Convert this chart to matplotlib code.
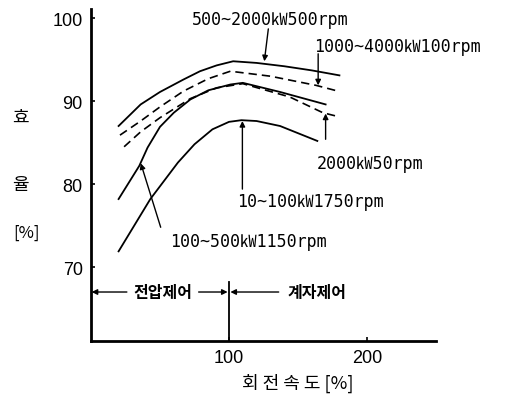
import matplotlib.pyplot as plt

# efficiency curves (speed %, efficiency %)
speed_500_2000 = [20, 36, 50, 67, 79, 91, 103, 120, 140, 160, 180]
eff_500_2000 = [87.0, 89.6, 91.1, 92.6, 93.6, 94.3, 94.8, 94.6, 94.2, 93.7, 93.1]

speed_1000_4000 = [21, 36, 50, 67, 85, 101, 130, 163, 179]
eff_1000_4000 = [85.9, 87.6, 89.3, 91.2, 92.7, 93.6, 93.0, 91.9, 91.2]

speed_2000 = [24, 36, 50, 72, 91, 110, 144, 168, 180]
eff_2000 = [84.5, 86.3, 88.0, 90.3, 91.6, 92.1, 90.5, 88.6, 88.1]

speed_100_500 = [20, 35, 41, 50, 60, 72, 85, 101, 110, 137, 170]
eff_100_500 = [78.2, 82.2, 84.4, 86.9, 88.6, 90.2, 91.3, 92.0, 92.2, 91.1, 89.6]

speed_10_100 = [20, 43, 63, 75, 88, 100, 109, 120, 137, 164]
eff_10_100 = [71.9, 78.2, 82.6, 84.8, 86.6, 87.5, 87.7, 87.6, 87.0, 85.2]

yticks = [70, 80, 90, 100]
xticks = [100, 200]

lab_font = ['DejaVu Sans Mono', 'Noto Sans CJK KR']
kr_font = ['Noto Sans CJK KR', 'DejaVu Sans']

fig = plt.figure(figsize=(5.22, 4.02), dpi=100)
ax = fig.add_axes((0.1743, 0.1493, 0.661, 0.8259))

ax.plot(speed_500_2000, eff_500_2000, 'k-', lw=1.3)
ax.plot(speed_1000_4000, eff_1000_4000, 'k--', lw=1.2, dashes=(5, 3))
ax.plot(speed_2000, eff_2000, 'k--', lw=1.2, dashes=(5, 3))
ax.plot(speed_100_500, eff_100_500, 'k-', lw=1.3)
ax.plot(speed_10_100, eff_10_100, 'k-', lw=1.3)

ax.set_xlim(0, 250)
ax.set_ylim(61.1, 101.1)
ax.set_xticks(xticks)
ax.set_yticks(yticks)
ax.tick_params(direction='in', length=3, width=1.2, labelsize=13, pad=6)
for t in ax.get_xticklabels() + ax.get_yticklabels():
    t.set_family('Liberation Sans')
ax.spines['top'].set_visible(False)
ax.spines['right'].set_visible(False)
ax.spines['left'].set_linewidth(2)
ax.spines['bottom'].set_linewidth(2)

arr = dict(arrowstyle='-|>', lw=1, color='k', mutation_scale=8, shrinkA=0, shrinkB=0)
lab = dict(family=lab_font, fontsize=12, ha='center', va='center')

# curve labels with leader arrows
ax.text(130, 99.9, '500~2000㎾500rpm', **lab)
ax.annotate('', xy=(125.6, 94.8), xytext=(128.5, 98.7), arrowprops=arr)

ax.text(222, 96.6, '1000~4000㎾100rpm', **lab)
ax.annotate('', xy=(164.6, 91.9), xytext=(164.6, 95.7), arrowprops=arr)

ax.text(202, 82.6, '2000㎾50rpm', **lab)
ax.annotate('', xy=(170, 88.5), xytext=(170, 85.4), arrowprops=arr)

ax.text(159, 78.0, '10~100㎾1750rpm', **lab)
ax.annotate('', xy=(109.7, 87.6), xytext=(109.7, 79.4), arrowprops=arr)

ax.text(114, 73.2, '100~500㎾1150rpm', **lab)
ax.annotate('', xy=(36.1, 82.5), xytext=(50.5, 74.8), arrowprops=arr)

# control regions
ctrl_y = 67.0
ax.plot([100, 100], [68.2, 61.1], 'k-', lw=1.3)
ax.annotate('', xy=(0.5, ctrl_y), xytext=(26, ctrl_y), arrowprops=arr)
ax.annotate('', xy=(99, ctrl_y), xytext=(78, ctrl_y), arrowprops=arr)
ax.annotate('', xy=(101, ctrl_y), xytext=(136, ctrl_y), arrowprops=arr)
ax.text(52, ctrl_y, '전압제어', family=kr_font, fontsize=11.5, fontweight='bold',
        ha='center', va='center')
ax.text(164, ctrl_y, '계자제어', family=kr_font, fontsize=11.5, fontweight='bold',
        ha='center', va='center')

# axis titles
fig.text(0.040, 0.706, '효', family=kr_font, fontsize=13, ha='center', va='center')
fig.text(0.040, 0.540, '율', family=kr_font, fontsize=13, ha='center', va='center')
fig.text(0.050, 0.420, '[%]', family=kr_font, fontsize=12, ha='center', va='center')
fig.text(0.571, 0.047, '회 전 속 도 [%]', family=kr_font, fontsize=13, ha='center', va='center')

fig.savefig('out.png', dpi=100)
